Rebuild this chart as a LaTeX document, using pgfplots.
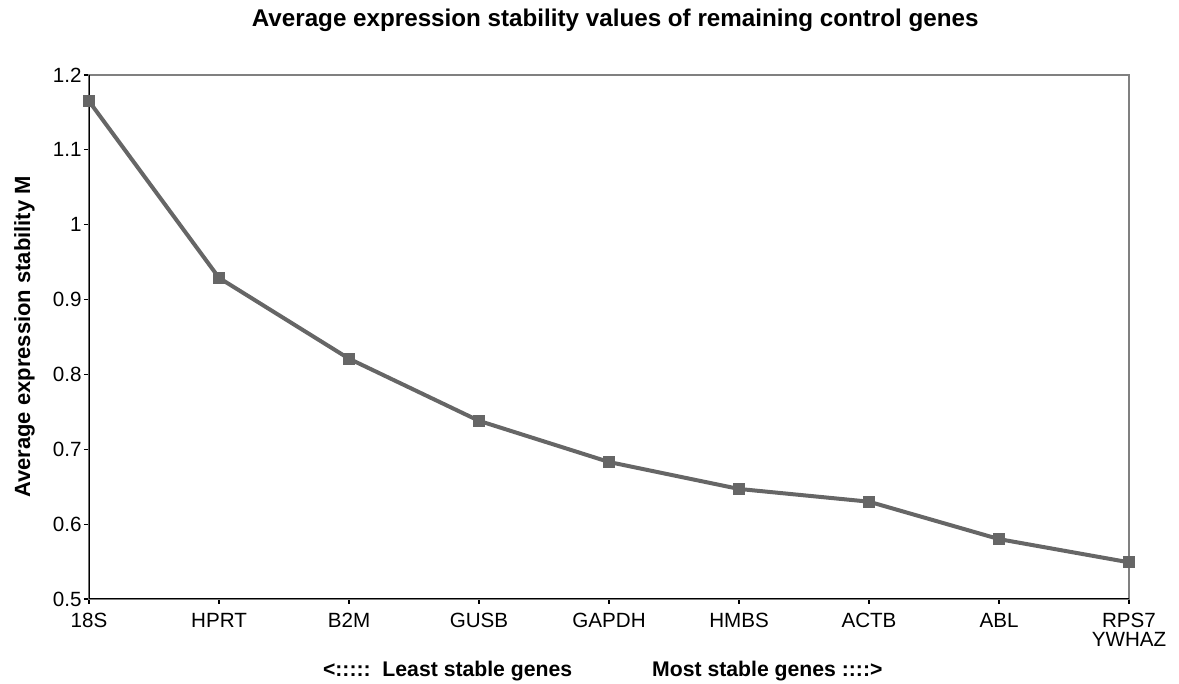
\documentclass[border=0pt]{standalone}
\usepackage{pgfplots}
\pgfplotsset{compat=1.18}
\usepackage{fontspec}
\setmainfont{Liberation Sans}
\definecolor{linegray}{RGB}{102,102,102}
\definecolor{boxgray}{RGB}{128,128,128}
\begin{document}
\begin{tikzpicture}
\begin{axis}[
    scale only axis,
    width=520pt, height=262pt,
    xmin=0, xmax=8,
    ymin=0.5, ymax=1.2,
    xtick={0,...,8},
    xticklabels={18S,\vphantom{S}HPRT,B2M,GUSB,GAPDH,HMBS,ACTB,\vphantom{S}ABL,{RPS7\\YWHAZ}},
    ytick={0.5,0.6,...,1.2},
    tick pos=left,
    tick align=outside,
    major tick length=2.5pt,
    tick style={black, line width=0.6pt},
    axis line style={boxgray, line width=1pt},
    font=\fontsize{10.3}{10.3}\selectfont,
    x tick label style={align=center, inner sep=1pt, yshift=-3.6pt,
        font=\fontsize{10.3}{9.5}\selectfont},
    y tick label style={inner sep=1.5pt, xshift=0.5pt},
    /pgf/number format/assume math mode=true,
    title={\bfseries Average expression stability values of remaining control genes},
    title style={at={(axis description cs:0.506,1)}, anchor=base, yshift=18pt,
        font=\fontsize{12.1}{12}\selectfont},
    ylabel={\bfseries Average expression stability M},
    ylabel style={at={(axis description cs:-0.062,0.5)}, anchor=center,
        font=\fontsize{11}{11}\selectfont},
    xlabel={\bfseries <:::::~~Least stable genes\hspace{40pt}Most stable genes ::::>},
    xlabel style={at={(axis description cs:0.494,0)}, anchor=base, yshift=-38.5pt,
        font=\fontsize{10.6}{11}\selectfont},
]
\addplot[color=linegray, line width=2pt, mark=square*, mark size=2.75pt,
    mark options={fill=linegray, draw=linegray, line width=0pt}] coordinates {
    (0, 1.165)
    (1, 0.929)
    (2, 0.821)
    (3, 0.738)
    (4, 0.683)
    (5, 0.647)
    (6, 0.630)
    (7, 0.580)
    (8, 0.549)
};
\draw[black, line width=1pt] (rel axis cs:0,1) -- (rel axis cs:0,0) -- (rel axis cs:1,0);
\end{axis}
\pgfresetboundingbox
\path ([xshift=-44.5pt,yshift=-42pt]current axis.south west)
    rectangle ([xshift=25pt,yshift=37.5pt]current axis.north east);
\end{tikzpicture}
\end{document}
